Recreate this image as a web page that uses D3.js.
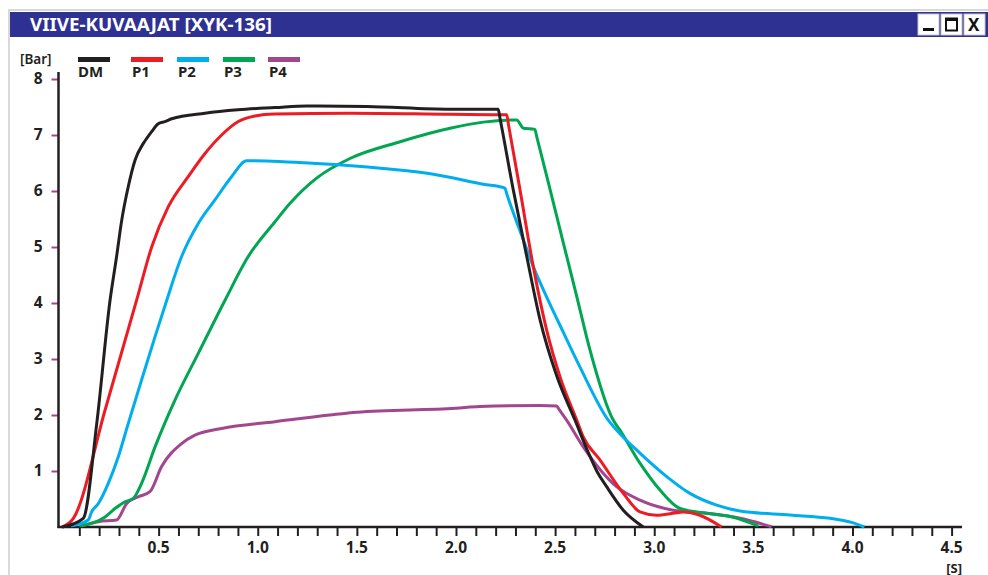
<!DOCTYPE html>
<html><head><meta charset="utf-8">
<script src="https://cdn.jsdelivr.net/npm/d3@7/dist/d3.min.js"></script>
<style>
html,body{margin:0;padding:0;background:#fff;}
svg{display:block;font-family:"Noto Sans","Open Sans",sans-serif;}
</style></head>
<body><svg id="c" width="988" height="575"></svg>
<script>
const titleText = "VIIVE-KUVAAJAT [XYK-136]";
const seriesNames = ["DM","P1","P2","P3","P4"];
const seriesColors = ["#231F20","#ED1C24","#00AEEF","#00A651","#A2478E"];
const yTickValues = [1,2,3,4,5,6,7,8];
const xTickLabels = [0.5,1.0,1.5,2.0,2.5,3.0,3.5,4.0,4.5];
const xUnit = "[S]", yUnit = "[Bar]";

const dmT = [0.013,0.12,0.188,0.255,0.288,0.314,0.347,0.381,0.423,0.44,0.465,0.498,0.532,0.566,0.734,0.90,1.087,1.247,1.55,1.97,2.213,2.222,2.289,2.357,2.424,2.508,2.60,2.676,2.71,2.76,2.844,2.945];
const dmV = [0,0.155,1.85,4.05,4.83,5.48,6.08,6.55,6.85,6.94,7.06,7.2,7.24,7.29,7.39,7.45,7.49,7.52,7.51,7.46,7.46,7.3,6.02,4.83,3.70,2.70,1.91,1.26,1.0,0.72,0.30,0];
const p1T = [0.013,0.07,0.23,0.389,0.465,0.549,0.65,0.734,0.818,0.902,0.986,1.087,1.465,1.97,2.256,2.265,2.323,2.39,2.457,2.525,2.609,2.642,2.726,2.844,2.928,3.012,3.096,3.147,3.23,3.34];
const p1V = [0,0.155,2.09,4.05,5.0,5.72,6.26,6.67,7.0,7.24,7.34,7.375,7.39,7.37,7.36,7.18,6.02,4.65,3.52,2.68,1.91,1.61,1.20,0.60,0.27,0.21,0.245,0.27,0.21,0];
const p2T = [0.058,0.145,0.162,0.196,0.246,0.297,0.347,0.414,0.482,0.541,0.616,0.70,0.784,0.869,0.944,1.297,1.633,1.886,2.138,2.247,2.256,2.34,2.39,2.457,2.541,2.625,2.768,2.81,2.928,3.063,3.18,3.315,3.433,3.685,3.887,4.0,4.06];
const p2V = [0.02,0.125,0.27,0.42,0.78,1.26,1.85,2.625,3.40,4.05,4.83,5.42,5.84,6.26,6.54,6.49,6.40,6.30,6.12,6.05,5.95,5.125,4.65,4.11,3.48,2.86,1.91,1.73,1.32,0.90,0.60,0.39,0.286,0.214,0.155,0.077,0];
const p3T = [0.10,0.23,0.28,0.33,0.372,0.414,0.482,0.583,0.70,0.835,0.952,1.087,1.163,1.297,1.465,1.718,1.97,2.138,2.306,2.34,2.398,2.406,2.466,2.541,2.609,2.676,2.793,2.827,2.928,3.029,3.13,3.265,3.399,3.525];
const p3V = [0.02,0.18,0.33,0.45,0.51,0.78,1.43,2.27,3.10,4.05,4.83,5.45,5.78,6.23,6.58,6.88,7.12,7.23,7.27,7.12,7.10,6.99,6.15,5.08,4.12,3.16,1.91,1.73,1.14,0.66,0.33,0.245,0.173,0.02];
const p4T = [0.112,0.196,0.288,0.339,0.398,0.456,0.515,0.616,0.683,0.818,1.087,1.364,1.5,2.0,2.12,2.424,2.508,2.518,2.558,2.642,2.81,2.928,3.096,3.265,3.433,3.592];
const p4V = [0.02,0.095,0.125,0.42,0.54,0.63,1.08,1.49,1.64,1.76,1.88,2.0,2.05,2.12,2.15,2.17,2.16,2.11,1.91,1.43,0.72,0.48,0.30,0.245,0.155,0.005];

const seriesT = [dmT,p1T,p2T,p3T,p4T];
const seriesV = [dmV,p1V,p2V,p3V,p4V];

const svg = d3.select("#c");
const W = 988, H = 575;
const txt = "#231F20";

// window frame
svg.append("rect").attr("x",9).attr("y",10).attr("width",W).attr("height",H)
  .attr("fill","#fff").attr("stroke","#d9d9d9").attr("stroke-width",2);
svg.append("rect").attr("x",10).attr("y",12).attr("width",W-10).attr("height",25).attr("fill","#2E3192");
svg.append("text").attr("x",30).attr("y",31).attr("fill","#fff")
  .attr("font-size",17).attr("font-weight",700).attr("textLength",242).attr("lengthAdjust","spacingAndGlyphs")
  .text(titleText);
// window buttons
const btnX = [918,941,964];
btnX.forEach((bx,i)=>{
  svg.append("rect").attr("x",bx).attr("y",14).attr("width",21).attr("height",21)
    .attr("fill","#fff").attr("stroke","#c8c8c8").attr("stroke-width",1);
});
svg.append("rect").attr("x",923).attr("y",28).attr("width",11).attr("height",3).attr("fill","#111");
svg.append("rect").attr("x",946).attr("y",18.5).attr("width",11).attr("height",12).attr("fill","none").attr("stroke","#111").attr("stroke-width",2);
svg.append("rect").attr("x",946).attr("y",18).attr("width",11).attr("height",3).attr("fill","#111");
svg.append("text").attr("x",968).attr("y",31).attr("font-size",17).attr("font-weight",700).attr("fill","#111").text("X");

// scales
const x = d3.scaleLinear().domain([0,4.5]).range([59.5,951.6]);
const y = d3.scaleLinear().domain([0,8]).range([527,79]);

// x axis
const xTicks = d3.range(1,46).map(i=>i/10);
const gx = svg.append("g").attr("transform","translate(0,527)")
  .call(d3.axisBottom(x).tickValues(xTicks).tickSize(9).tickFormat(""));
gx.select(".domain").remove();
gx.selectAll(".tick line").attr("stroke","#231F20").attr("stroke-width",2);
svg.append("line").attr("x1",57.5).attr("x2",962).attr("y1",527).attr("y2",527).attr("stroke","#231F20").attr("stroke-width",2.5);
svg.append("g").selectAll("text").data(xTickLabels).join("text")
  .attr("x",d=>x(d)).attr("y",553).attr("text-anchor","middle")
  .attr("font-size",15.5).attr("font-weight",700).attr("fill",txt).text(d=>d.toFixed(1));
svg.append("text").attr("x",962).attr("y",572.5).attr("text-anchor","end")
  .attr("font-size",13).attr("font-weight",700).attr("fill",txt).text(xUnit);

// y axis
const gy = svg.append("g").attr("transform","translate(58.5,0)")
  .call(d3.axisLeft(y).tickValues(yTickValues).tickSize(7).tickPadding(10).tickFormat(d3.format("d")));
gy.select(".domain").remove();
gy.selectAll(".tick line").attr("stroke","#A2478E").attr("stroke-width",2);
gy.selectAll(".tick text").attr("font-size",15.5).attr("font-weight",700).attr("fill",txt)
  .attr("font-family","'Noto Sans','Open Sans',sans-serif").attr("x",-16);
svg.append("line").attr("x1",58.5).attr("x2",58.5).attr("y1",72).attr("y2",528).attr("stroke","#231F20").attr("stroke-width",2.5);
svg.append("text").attr("x",20).attr("y",63.5).attr("font-size",13.5).attr("font-weight",600).attr("fill",txt).text(yUnit);

// legend
const legX = [78,131,177,223,268];
seriesNames.forEach((n,i)=>{
  svg.append("line").attr("x1",legX[i]).attr("x2",legX[i]+32).attr("y1",59.5).attr("y2",59.5)
    .attr("stroke",seriesColors[i]).attr("stroke-width",5);
  svg.append("text").attr("x",legX[i]+(i===0?0:1)).attr("y",77).attr("font-size",15).attr("font-weight",700)
    .attr("fill",txt).text(n);
});

// lines
const line = d3.line().x(d=>x(d[0])).y(d=>y(d[1])).curve(d3.curveMonotoneX);
const drawOrder = [4,3,2,1,0];
drawOrder.forEach(i=>{
  const pts = seriesT[i].map((t,k)=>[t,seriesV[i][k]]);
  svg.append("path").attr("d",line(pts)).attr("fill","none")
    .attr("stroke",seriesColors[i]).attr("stroke-width",3).attr("stroke-linejoin","round");
});
</script></body></html>
